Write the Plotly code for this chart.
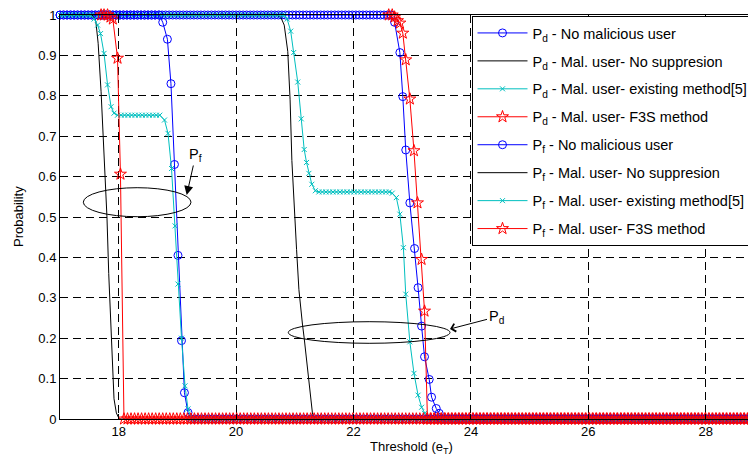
import numpy as np
import plotly.graph_objects as go

# ---------------- data ----------------
X_MIN, X_MAX = 17.0, 29.0          # threshold axis span of the sampled curves
STEP = 0.06                        # threshold sampling step (marker spacing)

# P_d curves (transition parts; before -> 1, after -> 0)
PD_NOMAL_X = [22.64, 22.70, 22.79, 22.84, 22.89, 22.96, 23.04, 23.10, 23.16, 23.21, 23.29, 23.33, 23.41, 23.46, 23.52]
PD_NOMAL_Y = [1.0, 0.982, 0.907, 0.798, 0.666, 0.535, 0.422, 0.325, 0.23, 0.154, 0.098, 0.054, 0.026, 0.014, 0.0]

PD_NOSUP_X = [20.70, 20.76, 20.82, 20.88, 20.92, 20.95, 20.99, 21.03, 21.07, 21.10, 21.13, 21.16, 21.19, 21.22, 21.26, 21.30, 21.33]
PD_NOSUP_Y = [1.0, 0.995, 0.975, 0.91, 0.79, 0.64, 0.52, 0.42, 0.32, 0.27, 0.235, 0.20, 0.16, 0.12, 0.06, 0.015, 0.0]

PD_EXIST_X1 = [20.82, 20.87, 20.93, 20.98, 21.05, 21.11, 21.16, 21.20, 21.24, 21.29, 21.35]
PD_EXIST_Y1 = [1.0, 0.99, 0.96, 0.907, 0.834, 0.743, 0.667, 0.635, 0.608, 0.581, 0.565]
PD_EXIST_PLATEAU = 0.562
PD_EXIST_X2 = [22.66, 22.73, 22.79, 22.85, 22.89, 22.96, 23.03, 23.10, 23.16, 23.21, 23.27]
PD_EXIST_Y2 = [0.559, 0.548, 0.507, 0.424, 0.309, 0.191, 0.113, 0.059, 0.029, 0.014, 0.0]

PD_F3S_X = [22.60, 22.66, 22.70, 22.75, 22.79, 22.84, 22.89, 22.96, 23.03, 23.09, 23.16, 23.21, 23.26]
PD_F3S_Y = [1.0, 1.0, 0.995, 0.986, 0.98, 0.955, 0.889, 0.792, 0.664, 0.535, 0.395, 0.267, 0.0]

# P_f curves
PF_NOMAL_X = [18.69, 18.75, 18.83, 18.89, 18.95, 19.01, 19.07, 19.12, 19.18, 19.24]
PF_NOMAL_Y = [1.0, 0.982, 0.94, 0.83, 0.63, 0.405, 0.194, 0.065, 0.016, 0.0]

PF_NOSUP_X = [17.55, 17.61, 17.65, 17.70, 17.75, 17.80, 17.83, 17.87, 17.92, 17.96, 18.01]
PF_NOSUP_Y = [1.0, 0.985, 0.93, 0.81, 0.67, 0.50, 0.36, 0.20, 0.05, 0.015, 0.0]

PF_EXIST_X1 = [17.52, 17.58, 17.64, 17.69, 17.75, 17.81, 17.87, 17.92]
PF_EXIST_Y1 = [1.0, 0.99, 0.975, 0.954, 0.905, 0.827, 0.773, 0.757]
PF_EXIST_PLATEAU = 0.752
PF_EXIST_X2 = [18.78, 18.84, 18.90, 18.96, 19.01, 19.07, 19.13, 19.18, 19.24]
PF_EXIST_Y2 = [0.74, 0.707, 0.62, 0.478, 0.334, 0.20, 0.082, 0.025, 0.0]

PF_F3S_X = [17.70, 17.75, 17.81, 17.86, 17.90, 17.98, 18.03, 18.09]
PF_F3S_Y = [1.0, 1.0, 1.0, 0.995, 0.99, 0.893, 0.606, 0.0]

LABELS = [
    "P<sub>d</sub> - No malicious user",
    "P<sub>d</sub> - Mal. user- No suppresion",
    "P<sub>d</sub> - Mal. user- existing method[5]",
    "P<sub>d</sub> - Mal. user- F3S method",
    "P<sub>f</sub> - No malicious user",
    "P<sub>f</sub> - Mal. user- No suppresion",
    "P<sub>f</sub> - Mal. user- existing method[5]",
    "P<sub>f</sub> - Mal. user- F3S method",
]
X_TICKS = [18, 20, 22, 24, 26, 28]
Y_TICKS = [0, 0.1, 0.2, 0.3, 0.4, 0.5, 0.6, 0.7, 0.8, 0.9, 1]


def plateau(a, b, val):
    xs = list(np.round(np.arange(a, b - 1e-9, STEP), 3))
    return xs, [val] * len(xs)


def build(trans_x, trans_y, start=X_MIN):
    xs, ys = [], []
    if trans_y[0] == 1.0 and start < trans_x[0] - 0.03:
        px, py = plateau(start, trans_x[0] - 0.03, 1.0)
        xs += px; ys += py
    xs += list(trans_x); ys += list(trans_y)
    px, py = plateau(trans_x[-1] + STEP, X_MAX + 1e-6, 0.0)
    xs += px; ys += py
    return xs, ys


def build_two(x1, y1, level, x2, y2, start=X_MIN):
    xs, ys = plateau(start, x1[0] - 0.03, 1.0)
    xs += list(x1); ys += list(y1)
    px, py = plateau(x1[-1] + STEP, x2[0] - 0.03, level)
    xs += px; ys += py
    xs += list(x2); ys += list(y2)
    px, py = plateau(x2[-1] + STEP, X_MAX + 1e-6, 0.0)
    xs += px; ys += py
    return xs, ys


BLUE, BLACK, CYAN, RED = "#0000FF", "#000000", "#00BFBF", "#FF0000"
FONT = "Liberation Sans, Arial, sans-serif"

series = [
    (build(PD_NOMAL_X, PD_NOMAL_Y), BLUE, "circle-open", 8),
    (build(PD_NOSUP_X, PD_NOSUP_Y), BLACK, None, 0),
    (build_two(PD_EXIST_X1, PD_EXIST_Y1, PD_EXIST_PLATEAU, PD_EXIST_X2, PD_EXIST_Y2), CYAN, "x-thin-open", 5),
    (build(PD_F3S_X, PD_F3S_Y, start=PD_F3S_X[0]), RED, "star-open", 9),
    (build(PF_NOMAL_X, PF_NOMAL_Y), BLUE, "circle-open", 8),
    (build(PF_NOSUP_X, PF_NOSUP_Y), BLACK, None, 0),
    (build_two(PF_EXIST_X1, PF_EXIST_Y1, PF_EXIST_PLATEAU, PF_EXIST_X2, PF_EXIST_Y2), CYAN, "x-thin-open", 5),
    (build(PF_F3S_X, PF_F3S_Y, start=PF_F3S_X[0]), RED, "star-open", 9),
]

fig = go.Figure()
for i, ((xs, ys), col, sym, size) in enumerate(series):
    if sym is None:
        fig.add_trace(go.Scatter(x=xs, y=ys, mode="lines", name=LABELS[i],
                                 line=dict(color=col, width=1), cliponaxis=False,
                                 legendgroup=f"g{i}"))
    else:
        fig.add_trace(go.Scatter(x=xs, y=ys, mode="lines+markers", name=LABELS[i],
                                 line=dict(color=col, width=1),
                                 marker=dict(symbol=sym, size=size, color=col,
                                             line=dict(color=col, width=1)),
                                 cliponaxis=False, legendgroup=f"g{i}"))

# page layout (page has an 8px body margin around the figure)
OFF = 8
PL, PT, PB_ = 60, 15, 419         # plot area left / top / bottom in page pixels
PR = 756
W, H = 756 - OFF, 462 - OFF
L, T = PL - OFF, PT - OFF
B = H - (PB_ - OFF)
pw, ph = PR - PL, PB_ - PT
PX_PER_UNIT = 58.7
x_range = [17, 17 + pw / PX_PER_UNIT]


def px2x(px):
    return 17 + (px - PL) / PX_PER_UNIT


def py2y(py):
    return (PB_ - py) / ph


def pgx(px):
    return (px - PL) / pw


def pgy(py):
    return (PB_ - py) / ph


fig.update_layout(
    width=W, height=H,
    margin=dict(l=L, r=0, t=T, b=B, autoexpand=False),
    paper_bgcolor="white", plot_bgcolor="white",
    font=dict(family=FONT, size=13, color="black"),
    showlegend=True,
    legend=dict(x=pgx(471.5), y=pgy(16.0), xanchor="left", yanchor="top",
                bgcolor="white", bordercolor="black", borderwidth=1,
                font=dict(family=FONT, size=14.5, color="black"),
                traceorder="grouped", tracegroupgap=6.1, itemwidth=50),
    xaxis=dict(range=x_range, tickvals=X_TICKS, ticktext=[str(v) for v in X_TICKS],
               showline=True, linecolor="black", linewidth=1, mirror="ticks",
               ticks="inside", ticklen=5, tickcolor="black",
               showgrid=True, gridcolor="black", gridwidth=1, griddash="8px,5px",
               zeroline=False, automargin=False, ticklabeloverflow="allow",
               tickfont=dict(family=FONT, size=13)),
    yaxis=dict(range=[0, 1], tickvals=Y_TICKS, ticktext=[f"{v:g}" for v in Y_TICKS],
               showline=True, linecolor="black", linewidth=1, mirror="ticks",
               ticks="inside", ticklen=5, tickcolor="black",
               showgrid=True, gridcolor="black", gridwidth=1, griddash="8px,5px",
               zeroline=False, automargin=False, ticklabeloverflow="allow",
               tickfont=dict(family=FONT, size=13)),
)

# ellipses
fig.add_shape(type="circle", xref="x", yref="y",
              x0=px2x(83.3), x1=px2x(191), y0=py2y(216.7), y1=py2y(187.7),
              line=dict(color="black", width=1))
fig.add_shape(type="circle", xref="x", yref="y",
              x0=px2x(288.3), x1=px2x(450), y0=py2y(343.3), y1=py2y(321.7),
              line=dict(color="black", width=1))

# arrows with labels
fig.add_annotation(x=px2x(186.7), y=py2y(195), xref="x", yref="y",
                   text="P<sub>f</sub>", showarrow=True, arrowhead=2, arrowsize=1.8,
                   arrowwidth=1, arrowcolor="black", ax=9, ay=-40,
                   font=dict(family=FONT, size=14.5, color="black"))
fig.add_annotation(x=px2x(450), y=py2y(329), xref="x", yref="y",
                   text="P<sub>d</sub>", showarrow=True, arrowhead=4, arrowsize=1.6,
                   arrowwidth=1, arrowcolor="black", ax=46, ay=-12,
                   font=dict(family=FONT, size=14.5, color="black"))

# axis titles
fig.add_annotation(x=pgx(411), y=pgy(447), xref="paper", yref="paper",
                   text="Threshold (e<sub>T</sub>)", showarrow=False,
                   xanchor="center", yanchor="middle",
                   font=dict(family=FONT, size=13, color="black"))
fig.add_annotation(x=pgx(18), y=0.5, xref="paper", yref="paper",
                   text="Probability", showarrow=False, textangle=-90,
                   xanchor="center", yanchor="middle",
                   font=dict(family=FONT, size=13, color="black"))

fig.write_html("out.html")
